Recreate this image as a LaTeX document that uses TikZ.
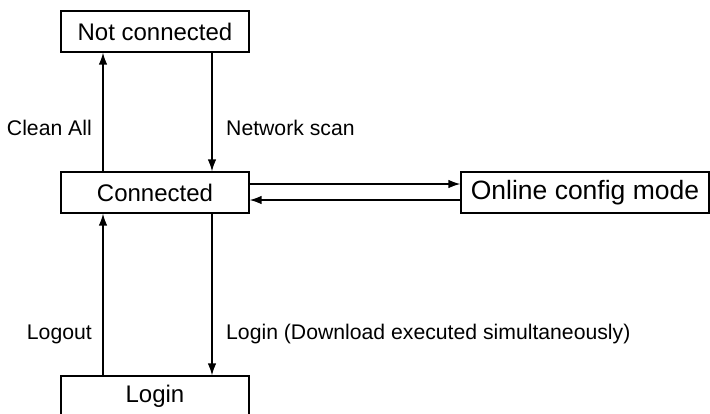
\documentclass[tikz,border=0pt]{standalone}
\usepackage{fontspec}
\setmainfont{Liberation Sans}
\usetikzlibrary{arrows.meta}
\begin{document}
\begin{tikzpicture}[x=1pt,y=-1pt,
  state/.style={draw,line width=1.1pt,minimum width=188pt,minimum height=41pt,inner sep=0pt,font=\fontsize{24}{27}\selectfont},
  arr/.style={line width=1.6pt,-{Latex[length=12pt,width=8.5pt]}},
  lbl/.style={inner sep=0pt,font=\fontsize{21.2}{24}\selectfont}]
\useasboundingbox (0,0) rectangle (710,413);
\clip (0,0) rectangle (710,413);
\node[state] (nc) at (155,31.5) {Not connected};
\node[state] (conn) at (155,192.5) {Connected};
\node[state,minimum width=248pt,font=\fontsize{26.5}{30}\selectfont] (oc) at (585,192.5) {Online config mode};
\node[state] (login) at (155,396.5) {Login};
\draw[arr] ([xshift=-52pt]conn.north) -- ([xshift=-52pt]nc.south);
\draw[arr] ([xshift=57pt]nc.south) -- ([xshift=57pt]conn.north);
\draw[arr] ([yshift=8.5pt]conn.east) -- ([yshift=8.5pt]oc.west);
\draw[arr] ([yshift=-7.5pt]oc.west) -- ([yshift=-7.5pt]conn.east);
\draw[arr] ([xshift=-52pt]login.north) -- ([xshift=-52pt]conn.south);
\draw[arr] ([xshift=57pt]conn.south) -- ([xshift=57pt]login.north);
\node[lbl,anchor=east] (lca) at (92,128) {Clean All};
\node[lbl,anchor=west] (lns) at (226,128) {Network scan};
\node[lbl,anchor=east] (llo) at (92,334) {Logout};
\node[lbl,anchor=west] (lli) at (226,334) {Login (Download executed simultaneously)};
\end{tikzpicture}
\end{document}
